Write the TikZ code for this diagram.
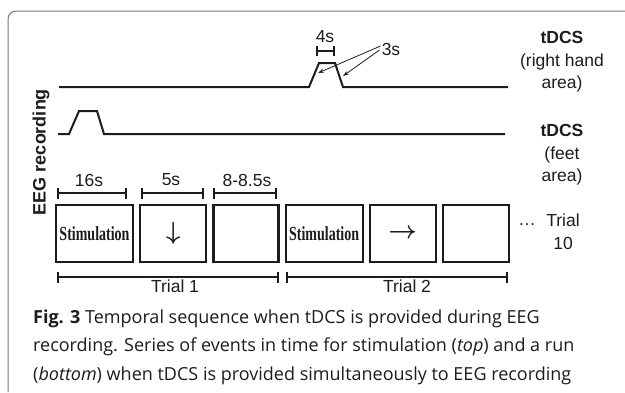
\documentclass[tikz,border=0pt]{standalone}
\usepackage{fontspec}
\setmainfont{Liberation Sans}
\newfontfamily\capfont{Open Sans}
\newfontfamily\boxfont{Liberation Serif}
\usetikzlibrary{arrows.meta, positioning}
\definecolor{EVink}{HTML}{1C1C1C}
\definecolor{EVframe}{HTML}{777777}
\tikzset{
  evsig/.style={line width=2pt, draw=EVink, line join=miter},
  evbox/.style={rectangle, draw=EVink, line width=2.2pt, inner sep=0pt,
    minimum height=57pt, text=EVink},
  evstim/.style={evbox, minimum width=77pt,
    font=\boxfont\bfseries\fontsize{20}{20}\selectfont},
  evcue/.style={evbox, minimum width=66pt, font=\fontsize{26}{26}\selectfont\boldmath},
  evdim/.style={{Bar[width=11pt]}-{Bar[width=11pt]}, line width=2pt, draw=EVink},
  evlbl/.style={font=\fontsize{17.5}{22.5}\selectfont, text=EVink,
    inner sep=0pt, align=center},
  evarr/.style={-{Stealth[length=6pt,width=4pt]}, line width=0.8pt, draw=EVink},
}
\begin{document}
\begin{tikzpicture}[x=1pt, y=-1pt]
  \useasboundingbox (0,0) rectangle (625,392);
  %% Frame
  \draw[EVframe, line width=1pt, rounded corners=8pt] (8,392) -- (8,11) -- (625,11);
  %% Signals
  \draw[evsig] (59,87) -- (309,87) -- (319,63) -- (335,63) -- (343,87) -- (508,87);
  \draw[evsig] (58,134) -- (69,134) -- (79,111) -- (97,111) -- (104,134) -- (505,134);
  \coordinate (up) at (318,73);
  \coordinate (dn) at (343,76);
  %% Ramp labels
  \draw[evdim, {Bar[width=10pt]}-{Bar[width=10pt]}] (316,51) -- (335,51);
  \node[evlbl] (four) at (325,37) {4s};
  \node[evlbl] (three) at (391,49) {3s};
  \draw[evarr] (three.west) ++(-1,-3) coordinate (t1) -- (up);
  \draw[evarr] (three.west) ++(-2,1) coordinate (t2) -- (dn);
  %% Channel labels
  \node[evlbl] (rh) at (562,62) {\textbf{tDCS}\\(right hand\\area)};
  \node[evlbl] (ft) at (562,155) {\textbf{tDCS}\\(feet\\area)};
  \node[evlbl, font=\bfseries\fontsize{18}{20}\selectfont, rotate=90] (eeg) at (41,152) {EEG recording};
  %% Trial boxes
  \node[evstim] (s1) at (94.5,233.5) {\scalebox{0.7}[1]{Stimulation}};
  \node[evcue, right=5pt of s1] (c1) {$\downarrow$};
  \node[evcue, right=5pt of c1, minimum width=65pt] (r1) {};
  \node[evstim, right=5pt of r1] (s2) {\scalebox{0.7}[1]{Stimulation}};
  \node[evcue, right=5pt of s2] (c2) {$\rightarrow$};
  \node[evcue, right=5pt of c2] (r2) {};
  \node[evlbl] (dots) at (527,225) {\dots};
  \node[evlbl] (t10) at (563,231.5) {Trial\\10};
  %% Durations
  \draw[evdim] (57,193) -- (127,193);
  \draw[evdim] (141,193) -- (204,193);
  \draw[evdim] (213,193) -- (277,193);
  \node[evlbl] (d16) at (89,180) {16s};
  \node[evlbl] (d5) at (171,180) {5s};
  \node[evlbl] (d8) at (247,180) {8-8.5s};
  \draw[evdim] (57,277) -- (279,277);
  \draw[evdim] (286,277) -- (508,277);
  \node[evlbl] (tr1) at (175,286) {Trial 1};
  \node[evlbl] (tr2) at (407,286) {Trial 2};
  %% Caption
  \node[anchor=base west, inner sep=0pt, align=left, text=EVink,
        font=\capfont\fontsize{18}{28.5}\selectfont] (cap) at (33,380)
    {\textbf{Fig. 3} Temporal sequence when tDCS is provided during EEG\\
     recording. Series of events in time for stimulation (\textit{top}) and a run\\
     (\textit{bottom}) when tDCS is provided simultaneously to EEG recording};
\end{tikzpicture}
\end{document}
